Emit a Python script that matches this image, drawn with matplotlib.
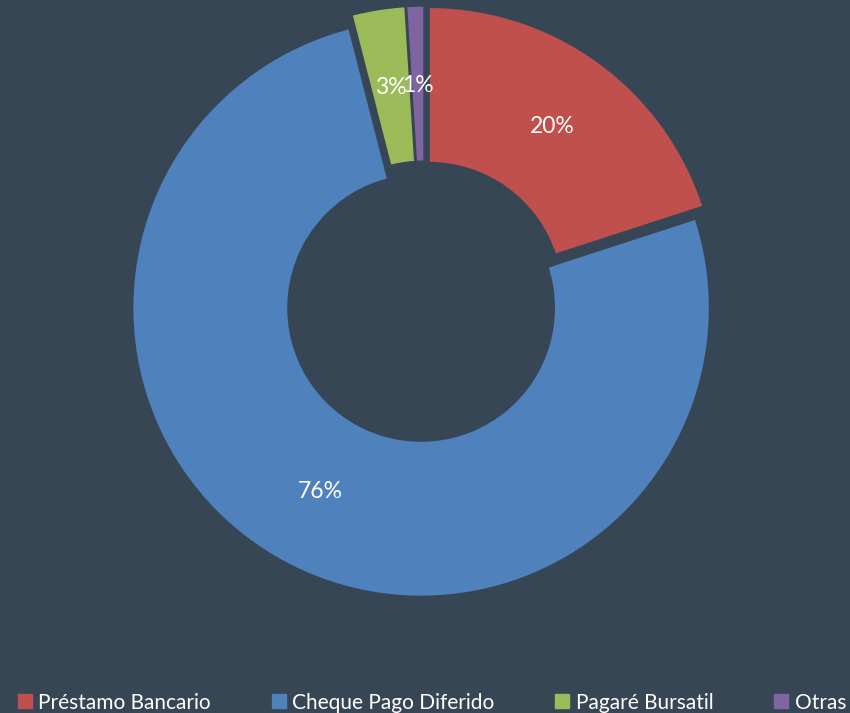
import numpy as np
import matplotlib.pyplot as plt
from matplotlib.lines import Line2D

categories = ["Préstamo Bancario", "Cheque Pago Diferido", "Pagaré Bursatil", "Otras"]
shares = [20, 76, 3, 1]
pct_labels = ["20%", "76%", "3%", "1%"]
colors = ["#C0504D", "#4F81BD", "#9BBB59", "#8064A2"]

bg = "#374655"
plt.rcParams['font.family'] = ['Lato', 'DejaVu Sans']

fig = plt.figure(figsize=(8.5, 7.13), dpi=100, facecolor=bg)
r = 0.405
ax = fig.add_axes([0.4995 - r * 713 / 850, 0.577 - r, 2 * r * 713 / 850, 2 * r])
ax.set_facecolor(bg)

wedges, _ = ax.pie(shares, colors=colors, startangle=90, counterclock=False,
                   explode=[0.025] * 4,
                   wedgeprops=dict(width=0.54, edgecolor=bg, linewidth=1.5))
ax.set_xlim(-1.0, 1.0)
ax.set_ylim(-1.0, 1.0)
ax.set_aspect('equal')

# percentage labels at 0.75 of the radius
cum = np.cumsum([0] + shares[:-1])
for start, val, txt in zip(cum, shares, pct_labels):
    ang = np.deg2rad(90 - (start + val / 2) / sum(shares) * 360)
    ax.text(0.75 * np.cos(ang), 0.75 * np.sin(ang), txt, color="white",
            fontsize=16.5, ha="center", va="center")

handles = [Line2D([], [], marker='s', linestyle='none', markersize=10,
                  markerfacecolor=c, markeredgecolor=c) for c in colors]
leg = fig.legend(handles, categories, loc="lower center", ncol=4,
                 bbox_to_anchor=(0.508, -0.026), frameon=False, fontsize=15,
                 handlelength=0.7, handletextpad=0.3, columnspacing=2.9,
                 labelcolor="white")

fig.savefig("out.png", dpi=100, facecolor=bg)
